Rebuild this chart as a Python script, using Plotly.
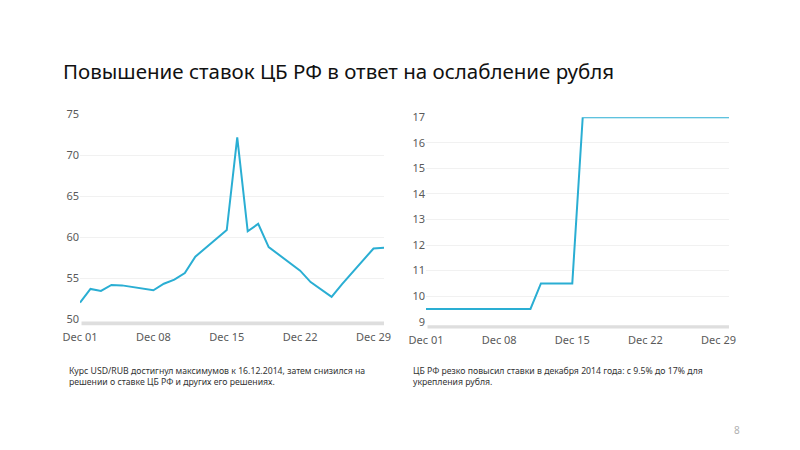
import plotly.graph_objects as go

# trading days, December 2014
dates = [
    "2014-12-01", "2014-12-02", "2014-12-03", "2014-12-04", "2014-12-05",
    "2014-12-08", "2014-12-09", "2014-12-10", "2014-12-11", "2014-12-12",
    "2014-12-15", "2014-12-16", "2014-12-17", "2014-12-18", "2014-12-19",
    "2014-12-22", "2014-12-23", "2014-12-24", "2014-12-25", "2014-12-26",
    "2014-12-29", "2014-12-30",
]
usd_rub = [
    52.0, 53.67, 53.42, 54.15, 54.1,
    53.5, 54.3, 54.8, 55.6, 57.6,
    60.85, 72.15, 60.7, 61.6, 58.77,
    55.9, 54.5, 53.6, 52.7, 54.25,
    58.6, 58.7,
]
cbr_rate = [
    9.5, 9.5, 9.5, 9.5, 9.5,
    9.5, 9.5, 9.5, 9.5, 10.5,
    10.5, 17, 17, 17, 17,
    17, 17, 17, 17, 17,
    17, 17,
]

title_text = "Повышение ставок ЦБ РФ в ответ на ослабление рубля"
note_left = ("Курс USD/RUB достигнул максимумов к 16.12.2014, затем снизился на<br>"
             "решении о ставке ЦБ РФ и других его решениях.")
note_right = ("ЦБ РФ резко повысил ставки в декабря 2014 года: с 9.5% до 17% для<br>"
              "укрепления рубля.")

line_color = "#2aaed3"
tick_font = dict(family="Noto Sans", size=11, color="#5a5a5a")

# page body adds an 8px offset, so positions below are shifted by it
W, H, OFF = 800, 450, 8


def px_x(v):
    return (v - OFF) / W


def px_y(v):
    return 1 - (v - OFF) / H


fig = go.Figure()

fig.add_trace(go.Scatter(
    x=dates, y=usd_rub, mode="lines",
    line=dict(color=line_color, width=2),
    xaxis="x", yaxis="y", showlegend=False,
))
fig.add_trace(go.Scatter(
    x=dates, y=cbr_rate, mode="lines",
    line=dict(color=line_color, width=2),
    xaxis="x2", yaxis="y2", showlegend=False,
))

xaxis_common = dict(
    type="date",
    range=["2014-12-01", "2014-12-30"],
    tick0="2014-12-01",
    dtick=7 * 24 * 3600 * 1000,
    tickformat="%b %d",
    showgrid=False,
    zeroline=False,
    showline=False,
    ticks="outside",
    ticklen=8,
    tickcolor="rgba(0,0,0,0)",
    tickfont=tick_font,
    fixedrange=True,
    automargin=False,
)
yaxis_common = dict(
    showgrid=True,
    gridcolor="#f1f1f1",
    gridwidth=1,
    zeroline=False,
    showline=False,
    ticks="",
    tickfont=tick_font,
    fixedrange=True,
    automargin=False,
)

fig.update_layout(
    width=W,
    height=H,
    margin=dict(l=0, r=0, t=0, b=0, autoexpand=False),
    plot_bgcolor="white",
    paper_bgcolor="white",
    xaxis=dict(domain=[px_x(80), px_x(384)], **xaxis_common),
    yaxis=dict(domain=[px_y(319), px_y(114)], range=[50, 75], dtick=5, anchor="x", **yaxis_common),
    xaxis2=dict(domain=[px_x(426), px_x(729)], anchor="y2", **xaxis_common),
    yaxis2=dict(domain=[px_y(321.7), px_y(117.3)], range=[9, 17], dtick=1, anchor="x2", **yaxis_common),
)

# grey scrollbars under each chart
for xr, yr, y0, y1 in [("x domain", "y domain", -0.012, -0.03),
                       ("x2 domain", "y2 domain", -0.017, -0.033)]:
    fig.add_shape(type="rect", xref=xr, yref=yr, x0=0.005, x1=1.0, y0=y0, y1=y1,
                  fillcolor="#dedede", line=dict(width=0), layer="above")

fig.add_annotation(
    text=title_text, xref="paper", yref="paper", x=px_x(61), y=px_y(71),
    xanchor="left", yanchor="middle", showarrow=False,
    font=dict(family="Noto Sans", size=20.5, color="#111111"),
)
fig.add_annotation(
    text=note_left, xref="paper", yref="paper", x=px_x(67), y=px_y(363),
    xanchor="left", yanchor="top", align="left", showarrow=False,
    font=dict(family="Noto Sans", size=8.7, color="#333333"),
)
fig.add_annotation(
    text=note_right, xref="paper", yref="paper", x=px_x(411), y=px_y(363),
    xanchor="left", yanchor="top", align="left", showarrow=False,
    font=dict(family="Noto Sans", size=8.7, color="#333333"),
)
fig.add_annotation(
    text="8", xref="paper", yref="paper", x=px_x(737), y=px_y(430),
    xanchor="center", yanchor="middle", showarrow=False,
    font=dict(family="Noto Sans", size=10, color="#b0b0b0"),
)

fig.write_html("out.html", config={"displayModeBar": False})
